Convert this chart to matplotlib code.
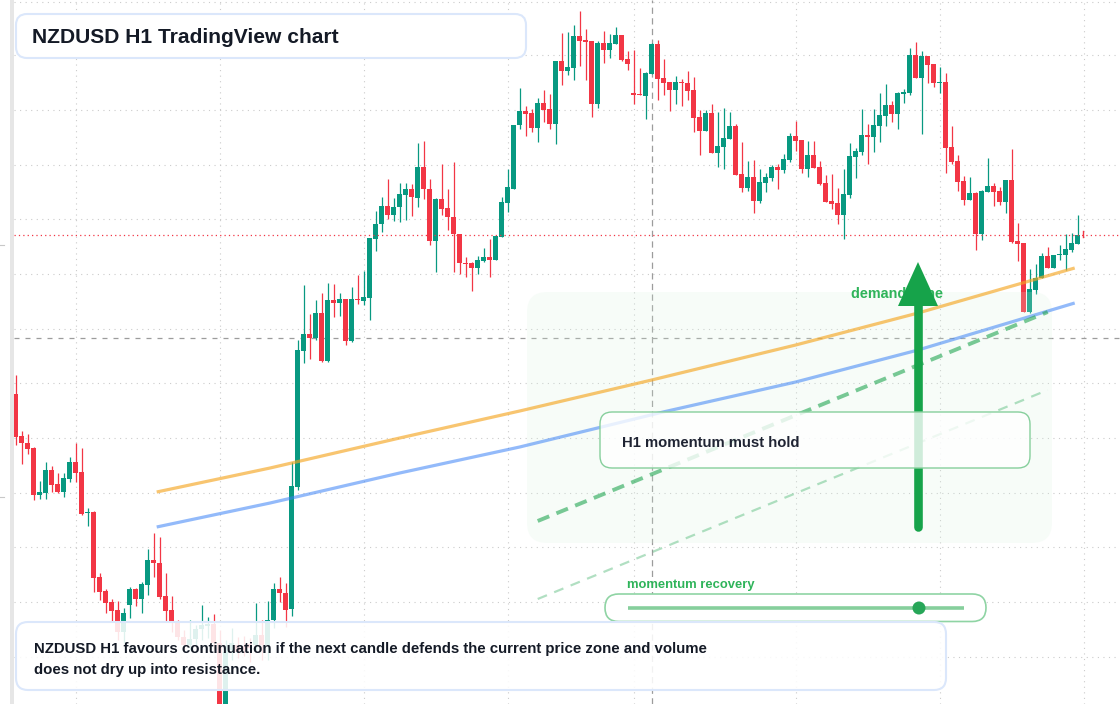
import matplotlib
matplotlib.use("Agg")
import matplotlib.pyplot as plt
from matplotlib.patches import FancyBboxPatch, Polygon, Circle, Rectangle
from matplotlib.transforms import Affine2D
from matplotlib.lines import Line2D

W, H = 1120, 704

# ---------------- data: NZDUSD H1 candles ----------------
opens = [0.59606, 0.59564, 0.59557, 0.59552, 0.59505, 0.59507, 0.59530, 0.59516, 0.59508, 0.59521,
         0.59538, 0.59528, 0.59487, 0.59488, 0.59423, 0.59409, 0.59398, 0.59390, 0.59368, 0.59395,
         0.59411, 0.59401, 0.59415, 0.59440, 0.59437, 0.59404, 0.59390, 0.59378, 0.59363, 0.59355,
         0.59361, 0.59371, 0.59374, 0.59376, 0.59357, 0.59278, 0.59350, 0.59355, 0.59354, 0.59356,
         0.59355, 0.59365, 0.59355, 0.59380, 0.59411, 0.59407, 0.59391, 0.59513, 0.59649, 0.59666,
         0.59662, 0.59687, 0.59639, 0.59700, 0.59697, 0.59701, 0.59659, 0.59701, 0.59699, 0.59702,
         0.59761, 0.59776, 0.59794, 0.59785, 0.59793, 0.59805, 0.59811, 0.59802, 0.59833, 0.59811,
         0.59759, 0.59801, 0.59792, 0.59783, 0.59766, 0.59737, 0.59737, 0.59732, 0.59739, 0.59743,
         0.59740, 0.59763, 0.59797, 0.59811, 0.59875, 0.59889, 0.59887, 0.59872, 0.59897, 0.59891,
         0.59876, 0.59939, 0.59929, 0.59932, 0.59964, 0.59960, 0.59959, 0.59896, 0.59957, 0.59950,
         0.59956, 0.59965, 0.59941, 0.59907, 0.59906, 0.59904, 0.59926, 0.59956, 0.59922, 0.59918,
         0.59910, 0.59918, 0.59917, 0.59910, 0.59883, 0.59869, 0.59887, 0.59847, 0.59853, 0.59861,
         0.59874, 0.59826, 0.59812, 0.59823, 0.59799, 0.59817, 0.59822, 0.59833, 0.59830, 0.59840,
         0.59864, 0.59860, 0.59831, 0.59845, 0.59833, 0.59817, 0.59799, 0.59797, 0.59785, 0.59805,
         0.59843, 0.59848, 0.59865, 0.59863, 0.59874, 0.59884, 0.59895, 0.59886, 0.59906, 0.59907,
         0.59945, 0.59922, 0.59944, 0.59936, 0.59917, 0.59918, 0.59853, 0.59839, 0.59819, 0.59800,
         0.59807, 0.59766, 0.59808, 0.59814, 0.59809, 0.59798, 0.59820, 0.59759, 0.59757, 0.59688,
         0.59710, 0.59722, 0.59744, 0.59732, 0.59745, 0.59745, 0.59750, 0.59756]
highs = [0.59625, 0.59569, 0.59566, 0.59553, 0.59519, 0.59538, 0.59534, 0.59527, 0.59527, 0.59543,
         0.59557, 0.59552, 0.59492, 0.59489, 0.59427, 0.59411, 0.59401, 0.59399, 0.59392, 0.59413,
         0.59412, 0.59418, 0.59451, 0.59467, 0.59463, 0.59427, 0.59404, 0.59380, 0.59370, 0.59380,
         0.59375, 0.59395, 0.59383, 0.59386, 0.59370, 0.59360, 0.59372, 0.59363, 0.59364, 0.59362,
         0.59397, 0.59380, 0.59399, 0.59417, 0.59423, 0.59417, 0.59538, 0.59660, 0.59715, 0.59686,
         0.59700, 0.59707, 0.59717, 0.59716, 0.59707, 0.59701, 0.59713, 0.59725, 0.59729, 0.59762,
         0.59789, 0.59803, 0.59821, 0.59802, 0.59817, 0.59817, 0.59816, 0.59857, 0.59859, 0.59821,
         0.59802, 0.59836, 0.59811, 0.59838, 0.59766, 0.59743, 0.59738, 0.59744, 0.59752, 0.59761,
         0.59764, 0.59803, 0.59831, 0.59875, 0.59912, 0.59894, 0.59891, 0.59902, 0.59910, 0.59906,
         0.59939, 0.59967, 0.59968, 0.59975, 0.59989, 0.59971, 0.59959, 0.59959, 0.59969, 0.59966,
         0.59973, 0.59965, 0.59949, 0.59950, 0.59932, 0.59928, 0.59957, 0.59960, 0.59941, 0.59918,
         0.59924, 0.59921, 0.59929, 0.59923, 0.59890, 0.59890, 0.59896, 0.59888, 0.59892, 0.59888,
         0.59876, 0.59858, 0.59839, 0.59840, 0.59831, 0.59827, 0.59835, 0.59836, 0.59846, 0.59867,
         0.59879, 0.59860, 0.59859, 0.59859, 0.59839, 0.59825, 0.59826, 0.59812, 0.59831, 0.59857,
         0.59852, 0.59891, 0.59876, 0.59891, 0.59907, 0.59916, 0.59899, 0.59908, 0.59911, 0.59952,
         0.59958, 0.59949, 0.59944, 0.59936, 0.59933, 0.59927, 0.59874, 0.59845, 0.59824, 0.59823,
         0.59808, 0.59810, 0.59842, 0.59817, 0.59813, 0.59820, 0.59851, 0.59777, 0.59757, 0.59731,
         0.59736, 0.59747, 0.59753, 0.59745, 0.59755, 0.59766, 0.59767, 0.59785]
lows = [0.59555, 0.59536, 0.59546, 0.59500, 0.59501, 0.59501, 0.59508, 0.59507, 0.59503, 0.59518,
        0.59518, 0.59485, 0.59474, 0.59408, 0.59400, 0.59387, 0.59379, 0.59360, 0.59357, 0.59382,
        0.59394, 0.59387, 0.59405, 0.59423, 0.59401, 0.59379, 0.59368, 0.59360, 0.59350, 0.59350,
        0.59355, 0.59360, 0.59362, 0.59350, 0.59265, 0.59270, 0.59340, 0.59342, 0.59344, 0.59338,
        0.59350, 0.59340, 0.59340, 0.59372, 0.59398, 0.59373, 0.59384, 0.59510, 0.59637, 0.59641,
        0.59660, 0.59638, 0.59638, 0.59683, 0.59684, 0.59655, 0.59658, 0.59696, 0.59695, 0.59680,
        0.59749, 0.59768, 0.59781, 0.59779, 0.59778, 0.59780, 0.59784, 0.59793, 0.59801, 0.59755,
        0.59728, 0.59785, 0.59770, 0.59728, 0.59726, 0.59723, 0.59709, 0.59726, 0.59738, 0.59723,
        0.59740, 0.59763, 0.59788, 0.59811, 0.59871, 0.59864, 0.59868, 0.59858, 0.59878, 0.59871,
        0.59856, 0.59915, 0.59925, 0.59920, 0.59934, 0.59920, 0.59883, 0.59892, 0.59937, 0.59942,
        0.59956, 0.59939, 0.59930, 0.59896, 0.59905, 0.59881, 0.59926, 0.59900, 0.59905, 0.59889,
        0.59896, 0.59894, 0.59900, 0.59868, 0.59845, 0.59869, 0.59847, 0.59833, 0.59831, 0.59861,
        0.59825, 0.59808, 0.59809, 0.59787, 0.59797, 0.59808, 0.59819, 0.59811, 0.59827, 0.59838,
        0.59849, 0.59827, 0.59823, 0.59832, 0.59815, 0.59798, 0.59791, 0.59776, 0.59761, 0.59802,
        0.59822, 0.59845, 0.59836, 0.59848, 0.59858, 0.59874, 0.59878, 0.59871, 0.59897, 0.59905,
        0.59922, 0.59866, 0.59917, 0.59913, 0.59907, 0.59827, 0.59836, 0.59809, 0.59795, 0.59800,
        0.59750, 0.59760, 0.59808, 0.59794, 0.59795, 0.59787, 0.59757, 0.59739, 0.59688, 0.59687,
        0.59706, 0.59722, 0.59732, 0.59732, 0.59740, 0.59730, 0.59748, 0.59756]
closes = [0.59563, 0.59557, 0.59551, 0.59505, 0.59508, 0.59530, 0.59515, 0.59508, 0.59522, 0.59538,
          0.59527, 0.59486, 0.59488, 0.59422, 0.59408, 0.59397, 0.59389, 0.59368, 0.59387, 0.59411,
          0.59401, 0.59416, 0.59440, 0.59437, 0.59403, 0.59389, 0.59378, 0.59363, 0.59355, 0.59361,
          0.59371, 0.59375, 0.59376, 0.59357, 0.59275, 0.59348, 0.59357, 0.59348, 0.59350, 0.59352,
          0.59365, 0.59355, 0.59380, 0.59411, 0.59407, 0.59390, 0.59514, 0.59650, 0.59666, 0.59662,
          0.59687, 0.59639, 0.59700, 0.59697, 0.59701, 0.59659, 0.59701, 0.59700, 0.59703, 0.59762,
          0.59776, 0.59794, 0.59785, 0.59793, 0.59806, 0.59811, 0.59803, 0.59833, 0.59811, 0.59759,
          0.59801, 0.59791, 0.59783, 0.59766, 0.59737, 0.59736, 0.59732, 0.59740, 0.59743, 0.59740,
          0.59764, 0.59798, 0.59813, 0.59875, 0.59889, 0.59886, 0.59872, 0.59897, 0.59890, 0.59876,
          0.59939, 0.59929, 0.59933, 0.59964, 0.59959, 0.59958, 0.59896, 0.59957, 0.59950, 0.59957,
          0.59965, 0.59940, 0.59936, 0.59905, 0.59905, 0.59927, 0.59956, 0.59921, 0.59917, 0.59910,
          0.59918, 0.59917, 0.59909, 0.59882, 0.59869, 0.59887, 0.59847, 0.59854, 0.59862, 0.59874,
          0.59825, 0.59812, 0.59823, 0.59799, 0.59818, 0.59823, 0.59833, 0.59830, 0.59841, 0.59864,
          0.59859, 0.59831, 0.59845, 0.59832, 0.59816, 0.59798, 0.59796, 0.59785, 0.59806, 0.59844,
          0.59849, 0.59865, 0.59863, 0.59875, 0.59885, 0.59895, 0.59886, 0.59907, 0.59908, 0.59945,
          0.59922, 0.59944, 0.59935, 0.59917, 0.59918, 0.59852, 0.59838, 0.59818, 0.59800, 0.59807,
          0.59766, 0.59809, 0.59814, 0.59808, 0.59798, 0.59820, 0.59758, 0.59756, 0.59688, 0.59711,
          0.59722, 0.59744, 0.59732, 0.59745, 0.59746, 0.59751, 0.59757, 0.59765]

# moving-average style guide lines (knots: bar index, price)
ma_x = [23.5, 42.4, 64.0, 84.0, 106.0, 130.0, 150.4, 176.5]
ma_fast = [0.59508, 0.59532, 0.59562, 0.59589, 0.59620, 0.59655, 0.59687, 0.59732]
ma_slow_x = [23.5, 42.4, 64.0, 84.0, 107.9, 130.0, 150.4, 176.5]
ma_slow = [0.59473, 0.59497, 0.59527, 0.59553, 0.59588, 0.59618, 0.59650, 0.59697]

# dashed trend projections
trend_x = [87.0, 172.0]
trend_main = [0.59479, 0.59688]
trend_lower = [0.59401, 0.59610]

# reference levels
focus_price = 0.59662
focus_bar = 106.0
grid_prices = [0.59998, 0.59945, 0.59890, 0.59835, 0.59781, 0.59726, 0.59671,
               0.59617, 0.59562, 0.59507, 0.59453, 0.59398, 0.59343]
grid_bars = [10, 34, 58, 82, 103, 130, 154, 178]
momentum_value = 0.866

title_text = "NZDUSD H1 TradingView chart"
note_lines = ["NZDUSD H1 favours continuation if the next candle defends the current price zone and volume",
              "does not dry up into resistance."]
box_text = "H1 momentum must hold"
zone_text = "demand zone"
slider_text = "momentum recovery"

# ---------------- figure ----------------
UP, DOWN = "#089981", "#f23645"
FONT = "Liberation Sans"

fig = plt.figure(figsize=(W / 100, H / 100), dpi=100, facecolor="white")
ax = fig.add_axes([14 / W, 0, (W - 14) / W, 1])
ax.set_xlim(-0.283, 184.05)
ax.set_ylim(0.59296, 0.60000)
ax.set_axis_off()

PX = Affine2D().scale(1, -1).translate(0, H)  # pixel coords, y down

# left pane edge
fig.patches.append(Rectangle((10, 0), 4, H, transform=PX, facecolor="#e6e6e6",
                             edgecolor="none", zorder=0))
for yy in (245, 497):
    fig.lines.append(Line2D([0, 4], [yy, yy], transform=PX, color="#c8c8c8", lw=0.8))

# grid
for gp in grid_prices:
    ax.axhline(gp, color="#cbcbcb", lw=0.8, linestyle=(0, (1, 4)), zorder=0.5)
for gb in grid_bars:
    ax.axvline(gb, color="#cbcbcb", lw=0.8, linestyle=(0, (1, 4)), zorder=0.5)

# crosshair-like dashed references
ax.axhline(focus_price, color="#9c9c9c", lw=0.9, linestyle=(0, (4, 4.8)), zorder=1)
ax.axvline(focus_bar, color="#9c9c9c", lw=0.9, linestyle=(0, (5, 3.5)), zorder=1)

# candles
idx = list(range(len(opens)))
cols = [UP if c >= o else DOWN for o, c in zip(opens, closes)]
ax.vlines(idx, lows, highs, colors=cols, lw=0.9, zorder=2)
bottoms = [min(o, c) for o, c in zip(opens, closes)]
heights = [max(abs(c - o), 0.000012) for o, c in zip(opens, closes)]
ax.bar(idx, heights, bottom=bottoms, width=0.78, color=cols, linewidth=0, zorder=2.1)

# last price line
ax.axhline(closes[-1], color=DOWN, lw=0.9, linestyle=(0, (1, 2.5)), zorder=3)
ax.add_line(Line2D([1083, 1083], [231, 237], transform=PX, color=DOWN, lw=1.0, zorder=3))

# demand zone shading
ax.add_patch(FancyBboxPatch((527, 292), 525, 251, boxstyle="round,pad=0,rounding_size=20",
                            transform=PX, facecolor="#d9f3e0", edgecolor="none",
                            alpha=0.2, zorder=3.2, clip_on=False))

# guide lines
ax.plot(ma_x, ma_fast, color="#f5a623", alpha=0.65, lw=2.3, zorder=4, solid_capstyle="butt")
ax.plot(ma_slow_x, ma_slow, color="#3b82f6", alpha=0.55, lw=2.3, zorder=4, solid_capstyle="butt")
ax.plot(trend_x, trend_main, color="#22a652", alpha=0.6, lw=2.8,
        linestyle=(0, (3.2, 2.0)), zorder=4)
ax.plot(trend_x, trend_lower, color="#22a652", alpha=0.35, lw=1.6,
        linestyle=(0, (4.5, 3.5)), zorder=4)

# zone label and arrow
ax.text(851, 298, zone_text, transform=PX, fontsize=10.4, fontweight="bold",
        color="#2fb45a", family=FONT, va="baseline", ha="left", zorder=5)
ax.add_line(Line2D([918, 918], [300, 527], transform=PX, color="#16a34a", lw=6.2,
                   solid_capstyle="round", zorder=6))
ax.add_patch(Polygon([(898, 306), (938, 306), (918, 262)], closed=True, transform=PX,
                     facecolor="#16a34a", edgecolor="none", zorder=6.1, clip_on=False))

# H1 momentum box
ax.add_patch(FancyBboxPatch((600, 412), 430, 56, boxstyle="round,pad=0,rounding_size=12",
                            transform=PX, facecolor=(1, 1, 1, 0.8), edgecolor="#86cf9c",
                            lw=1.0, zorder=7, clip_on=False))
ax.text(622, 447.3, box_text, transform=PX, fontsize=10.7, fontweight="bold",
        color="#1f2433", family=FONT, va="baseline", ha="left", zorder=8)

# momentum slider
ax.text(627, 587.7, slider_text, transform=PX, fontsize=9.4, fontweight="bold",
        color="#2fb45a", family=FONT, va="baseline", ha="left", zorder=8)
ax.add_patch(FancyBboxPatch((605, 594), 381, 27.5, boxstyle="round,pad=0,rounding_size=13.7",
                            transform=PX, facecolor="white", edgecolor="#8fd4a4",
                            lw=1.2, zorder=7, clip_on=False))
sx0, sx1 = 628, 964
ax.add_line(Line2D([sx0, sx1], [608, 608], transform=PX, color="#86cf9c", lw=2.6,
                   solid_capstyle="butt", zorder=8))
ax.add_patch(Circle((sx0 + momentum_value * (sx1 - sx0), 608), 6.5, transform=PX,
                    facecolor="#27a658", edgecolor="none", zorder=9, clip_on=False))

# bottom note
ax.add_patch(FancyBboxPatch((16, 622), 930, 68, boxstyle="round,pad=0,rounding_size=12",
                            transform=PX, facecolor=(1, 1, 1, 0.87), edgecolor="#dbe7fb",
                            lw=1.5, zorder=9, clip_on=False))
for k, line in enumerate(note_lines):
    ax.text(34, 653.3 + 21 * k, line, transform=PX, fontsize=10.8, fontweight="bold",
            color="#141a26", family=FONT, va="baseline", ha="left", zorder=10)

# title
ax.add_patch(FancyBboxPatch((16, 14), 510, 44, boxstyle="round,pad=0,rounding_size=11",
                            transform=PX, facecolor="white", edgecolor="#dbe7fb",
                            lw=1.5, zorder=9, clip_on=False))
ax.text(32, 43.3, title_text, transform=PX, fontsize=15.1, fontweight="bold",
        color="#141a26", family=FONT, va="baseline", ha="left", zorder=10)

fig.savefig("out.png", dpi=100, facecolor="white")
